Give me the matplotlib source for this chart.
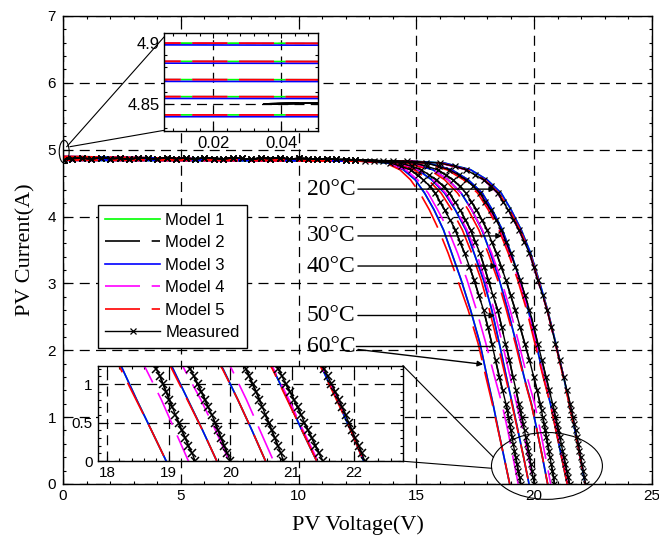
import matplotlib
matplotlib.use('Agg')
import matplotlib.pyplot as plt
from matplotlib.patches import Ellipse
from matplotlib.ticker import AutoMinorLocator

plt.rcParams['font.family'] = ['Liberation Sans', 'DejaVu Sans']
SERIF = ['Liberation Serif', 'DejaVu Serif']

temps = [20, 30, 40, 50, 60]

# short-circuit current of the models (A)
isc_model = {20: 4.841, 30: 4.856, 40: 4.870, 50: 4.885, 60: 4.900}
isc_model3 = {20: 4.8395, 30: 4.8545, 40: 4.8685, 50: 4.8835, 60: 4.8985}

# model curves: voltage (V) at these current levels (A)
i_grid = [4.83, 4.80, 4.70, 4.55, 4.35, 4.10, 3.80, 3.45, 3.05, 2.60, 2.10, 1.60, 1.20, 0.80, 0.40, 0.00]

v_model5 = {
    20: [14.5, 16.05, 17.15, 17.9, 18.5, 18.95, 19.4, 19.82, 20.17, 20.55, 20.9, 21.23, 21.48, 21.72, 21.95, 22.16],
    30: [13.9, 15.3, 16.3, 17.0, 17.6, 18.05, 18.5, 18.9, 19.3, 19.68, 20.03, 20.38, 20.68, 20.92, 21.16, 21.4],
    40: [13.4, 14.6, 15.55, 16.2, 16.75, 17.2, 17.65, 18.05, 18.45, 18.82, 19.2, 19.55, 19.87, 20.12, 20.35, 20.57],
    50: [12.9, 14.0, 14.9, 15.5, 16.05, 16.5, 16.95, 17.35, 17.75, 18.1, 18.45, 18.78, 19.05, 19.3, 19.55, 19.78],
    60: [12.5, 13.7, 14.3, 14.75, 15.15, 15.55, 15.95, 16.35, 16.75, 17.2, 17.62, 17.95, 18.22, 18.47, 18.72, 18.96],
}
v_model4 = {
    20: [14.6, 16.0, 17.1, 17.85, 18.45, 18.9, 19.35, 19.8, 20.15, 20.55, 20.9, 21.25, 21.5, 21.75, 21.96, 22.16],
    30: [14.0, 15.4, 16.4, 17.1, 17.7, 18.12, 18.55, 18.95, 19.35, 19.72, 20.07, 20.4, 20.7, 20.95, 21.18, 21.42],
    40: [13.5, 14.7, 15.7, 16.35, 16.9, 17.35, 17.8, 18.2, 18.6, 18.98, 19.35, 19.7, 20.02, 20.26, 20.48, 20.7],
    50: [13.0, 14.2, 15.1, 15.7, 16.25, 16.7, 17.15, 17.55, 17.92, 18.3, 18.65, 18.98, 19.25, 19.52, 19.76, 19.98],
    60: [12.6, 13.8, 14.55, 15.05, 15.5, 15.9, 16.35, 16.75, 17.15, 17.55, 17.95, 18.32, 18.63, 18.88, 19.1, 19.32],
}
v_model3 = {
    20: [14.7, 16.2, 17.3, 18.0, 18.6, 19.02, 19.45, 19.85, 20.2, 20.57, 20.92, 21.25, 21.49, 21.73, 21.95, 22.16],
    30: [14.1, 15.5, 16.5, 17.2, 17.8, 18.22, 18.65, 19.02, 19.4, 19.75, 20.08, 20.4, 20.69, 20.93, 21.16, 21.4],
    40: [13.5, 14.7, 15.7, 16.35, 16.9, 17.35, 17.78, 18.15, 18.52, 18.88, 19.24, 19.57, 19.88, 20.12, 20.35, 20.57],
    50: [13.0, 14.1, 15.05, 15.65, 16.2, 16.65, 17.1, 17.45, 17.85, 18.2, 18.52, 18.82, 19.07, 19.31, 19.55, 19.78],
    60: [12.6, 13.8, 14.45, 14.95, 15.35, 15.75, 16.15, 16.5, 16.9, 17.3, 17.7, 18.0, 18.25, 18.48, 18.72, 18.96],
}
# Model 1 follows Model 3 along the knee (it starts from the Model 5 short-circuit current)
v_model1 = v_model3

# measured data: flat part shared by all runs, then voltage at fixed current levels
v_flat = [0.035, 0.4, 0.8, 1.2, 1.6, 2.0, 2.4, 2.8, 3.2, 3.6, 4.0, 4.4, 4.8, 5.2, 5.6, 6.0,
          6.4, 6.8, 7.2, 7.6, 8.0, 8.4, 8.8, 9.2, 9.6, 10.0, 10.4, 10.8, 11.2, 11.6, 12.0, 12.4]
i_flat = [4.850, 4.868, 4.875, 4.861, 4.880, 4.866, 4.872, 4.858, 4.877, 4.869, 4.863, 4.881,
          4.866, 4.874, 4.859, 4.878, 4.868, 4.862, 4.876, 4.870, 4.857, 4.873, 4.866, 4.879,
          4.861, 4.869, 4.864, 4.858, 4.866, 4.855, 4.852, 4.846]
i_meas = [4.83, 4.80, 4.75, 4.70, 4.62, 4.55, 4.45, 4.35, 4.22, 4.10, 3.95, 3.80, 3.62, 3.45,
          3.25, 3.05, 2.82, 2.60, 2.35, 2.10, 1.85, 1.60, 1.40, 1.20, 1.10, 1.00, 0.90, 0.80,
          0.70, 0.60, 0.50, 0.40, 0.30, 0.20, 0.10, 0.00]
v_meas = {
    20: [14.6, 16.0, 16.65, 17.1, 17.5, 17.85, 18.17, 18.45, 18.68, 18.9, 19.12, 19.35, 19.58, 19.8,
         19.98, 20.15, 20.36, 20.55, 20.73, 20.9, 21.08, 21.25, 21.39, 21.52, 21.58, 21.64, 21.7, 21.76,
         21.81, 21.87, 21.92, 21.97, 22.02, 22.08, 22.13, 22.18],
    30: [14.0, 15.4, 15.95, 16.4, 16.8, 17.1, 17.42, 17.7, 17.93, 18.15, 18.38, 18.6, 18.8, 19.0,
         19.2, 19.4, 19.61, 19.8, 19.98, 20.15, 20.33, 20.5, 20.64, 20.78, 20.84, 20.9, 20.97, 21.03,
         21.09, 21.15, 21.2, 21.26, 21.32, 21.38, 21.44, 21.5],
    40: [13.6, 14.9, 15.45, 15.9, 16.25, 16.55, 16.85, 17.1, 17.33, 17.55, 17.78, 18.0, 18.2, 18.4,
         18.6, 18.8, 19.0, 19.2, 19.4, 19.6, 19.8, 19.98, 20.12, 20.25, 20.31, 20.36, 20.42, 20.47,
         20.52, 20.57, 20.62, 20.67, 20.72, 20.77, 20.82, 20.86],
    50: [13.2, 14.3, 14.8, 15.2, 15.55, 15.85, 16.15, 16.4, 16.63, 16.85, 17.08, 17.3, 17.5, 17.7,
         17.88, 18.05, 18.25, 18.45, 18.62, 18.78, 18.95, 19.1, 19.23, 19.35, 19.41, 19.47, 19.53, 19.59,
         19.64, 19.7, 19.75, 19.8, 19.85, 19.9, 19.95, 20.0],
    60: [12.8, 13.9, 14.35, 14.75, 15.05, 15.3, 15.57, 15.8, 16.0, 16.2, 16.43, 16.65, 16.85, 17.05,
         17.25, 17.45, 17.65, 17.85, 18.03, 18.2, 18.36, 18.52, 18.66, 18.8, 18.86, 18.91, 18.96, 19.01,
         19.06, 19.11, 19.16, 19.21, 19.27, 19.32, 19.38, 19.43],
}

# temperature callouts: label, current of the leader, arrow tip (V, A)
label_names = ['20°C', '30°C', '40°C', '50°C', '60°C']
label_i = [4.41, 3.71, 3.26, 2.52, 2.06]
label_tip_v = [18.34, 18.63, 18.42, 18.34, 17.83]
label_tip_i = [4.41, 3.71, 3.26, 2.52, 1.79]

LW = 1.2
DASH = (21, 7)
GRID = dict(color='k', lw=0.9, linestyle=(0, (8, 5)))


def draw_curves(ax, markers=True, ms=4, mew=0.8, with_labels=False):
    for k, t in enumerate(temps):
        lab = (lambda s: s) if (with_labels and k == 0) else (lambda s: '_nolegend_')
        ax.plot([0] + v_model1[t], [isc_model[t]] + i_grid, color='#00ff00', lw=LW,
                zorder=2.0, label=lab('Model 1'))
        ax.plot(v_flat + v_meas[t], i_flat + i_meas, color='k', lw=LW, dashes=DASH,
                zorder=2.1, label=lab('Model 2'))
        ax.plot([0] + v_model3[t], [isc_model3[t]] + i_grid, color='#0000ff', lw=LW,
                zorder=2.2, label=lab('Model 3'))
        ax.plot([0] + v_model4[t], [isc_model[t]] + i_grid, color='#ff00ff', lw=LW,
                dashes=DASH, zorder=2.3, label=lab('Model 4'))
        ax.plot([0] + v_model5[t], [isc_model[t]] + i_grid, color='#ff0000', lw=LW,
                dashes=DASH, zorder=2.4, label=lab('Model 5'))
        ax.plot(v_flat + v_meas[t], i_flat + i_meas, color='k', lw=1.0,
                marker='x' if markers else None, ms=ms, mew=mew, zorder=2.5,
                label=lab('Measured'))


def style_axes(ax, labelsize=11):
    for sp in ax.spines.values():
        sp.set_linewidth(1.0)
    ax.xaxis.set_minor_locator(AutoMinorLocator(5))
    ax.yaxis.set_minor_locator(AutoMinorLocator(5))
    ax.tick_params(which='both', direction='in', top=True, right=True,
                   labelsize=labelsize, width=0.8)
    ax.tick_params(which='major', length=3.6, pad=3.5)
    ax.tick_params(which='minor', length=2.2)
    ax.grid(True, which='major', **GRID)
    ax.set_axisbelow(True)


fig = plt.figure(figsize=(6.59, 5.43), dpi=100)

# main I-V plot
ax = fig.add_axes([0.0956, 0.1087, 0.8938, 0.8619])
draw_curves(ax, markers=True, ms=4.5, mew=0.9, with_labels=True)
ax.set_xlim(0, 25)
ax.set_ylim(0, 7)
ax.set_xticks([0, 5, 10, 15, 20, 25])
ax.set_yticks(range(8))
style_axes(ax)
ax.tick_params(axis='y', which='major', pad=5)
ax.set_xlabel('PV Voltage(V)', family=SERIF, fontsize=16, labelpad=9)
ax.set_ylabel('PV Current(A)', family=SERIF, fontsize=16, labelpad=9)

leg = ax.legend(loc='upper left', bbox_to_anchor=(0.0594, 0.596), borderaxespad=0,
                fontsize=12, handlelength=3.3, handletextpad=0.3, labelspacing=0.45,
                borderpad=0.45, fancybox=False, framealpha=1, edgecolor='k', numpoints=1)
leg.get_frame().set_linewidth(1.0)
leg.set_zorder(5)

# temperature callouts
for name, li, tv, ti in zip(label_names, label_i, label_tip_v, label_tip_i):
    ax.annotate(name, xy=(tv, ti), xytext=(12.4, li), ha='right', va='center',
                family=SERIF, fontsize=17, zorder=6,
                arrowprops=dict(arrowstyle='-|>', color='k', lw=1.0, mutation_scale=8,
                                shrinkA=0, shrinkB=0))
ax.plot([12.45, 18.12], [label_i[-1], label_i[-1]], color='k', lw=1.0, zorder=6)

# zoom markers and leaders
ax.add_patch(Ellipse((0.05, 4.97), 0.42, 0.34, fill=False, ec='k', lw=0.8,
                     clip_on=False, zorder=6))
ax.plot([0.16, 4.30], [5.045, 6.69], color='k', lw=0.8, clip_on=False, zorder=6)
ax.plot([0.30, 4.30], [5.045, 5.29], color='k', lw=0.8, clip_on=False, zorder=6)
ax.add_patch(Ellipse((20.54, 0.27), 4.71, 1.0, fill=False, ec='k', lw=0.8,
                     clip_on=False, zorder=6))
ax.plot([14.43, 18.27], [1.77, 0.40], color='k', lw=0.8, clip_on=False, zorder=6)
ax.plot([14.43, 18.19], [0.34, 0.235], color='k', lw=0.8, clip_on=False, zorder=6)

# inset near the short-circuit point
ax_top = fig.add_axes([0.2493, 0.7593, 0.2337, 0.1794])
draw_curves(ax_top, markers=False)
ax_top.set_xlim(0.0055, 0.051)
ax_top.set_ylim(4.828, 4.908)
ax_top.set_xticks([0.02, 0.04])
ax_top.set_yticks([4.85, 4.9])
ax_top.set_yticklabels(['4.85', '4.9'])
style_axes(ax_top, labelsize=12)

# inset near open-circuit
ax_bot = fig.add_axes([0.1483, 0.1510, 0.4633, 0.1755])
draw_curves(ax_bot, markers=True, ms=6, mew=1.1)
ax_bot.set_xlim(17.85, 22.8)
ax_bot.set_ylim(0, 1.24)
ax_bot.set_xticks([18, 19, 20, 21, 22])
ax_bot.set_yticks([0, 0.5, 1])
ax_bot.set_yticklabels(['0', '0.5', '1'])
style_axes(ax_bot, labelsize=11)

fig.savefig('out.png', dpi=100)
